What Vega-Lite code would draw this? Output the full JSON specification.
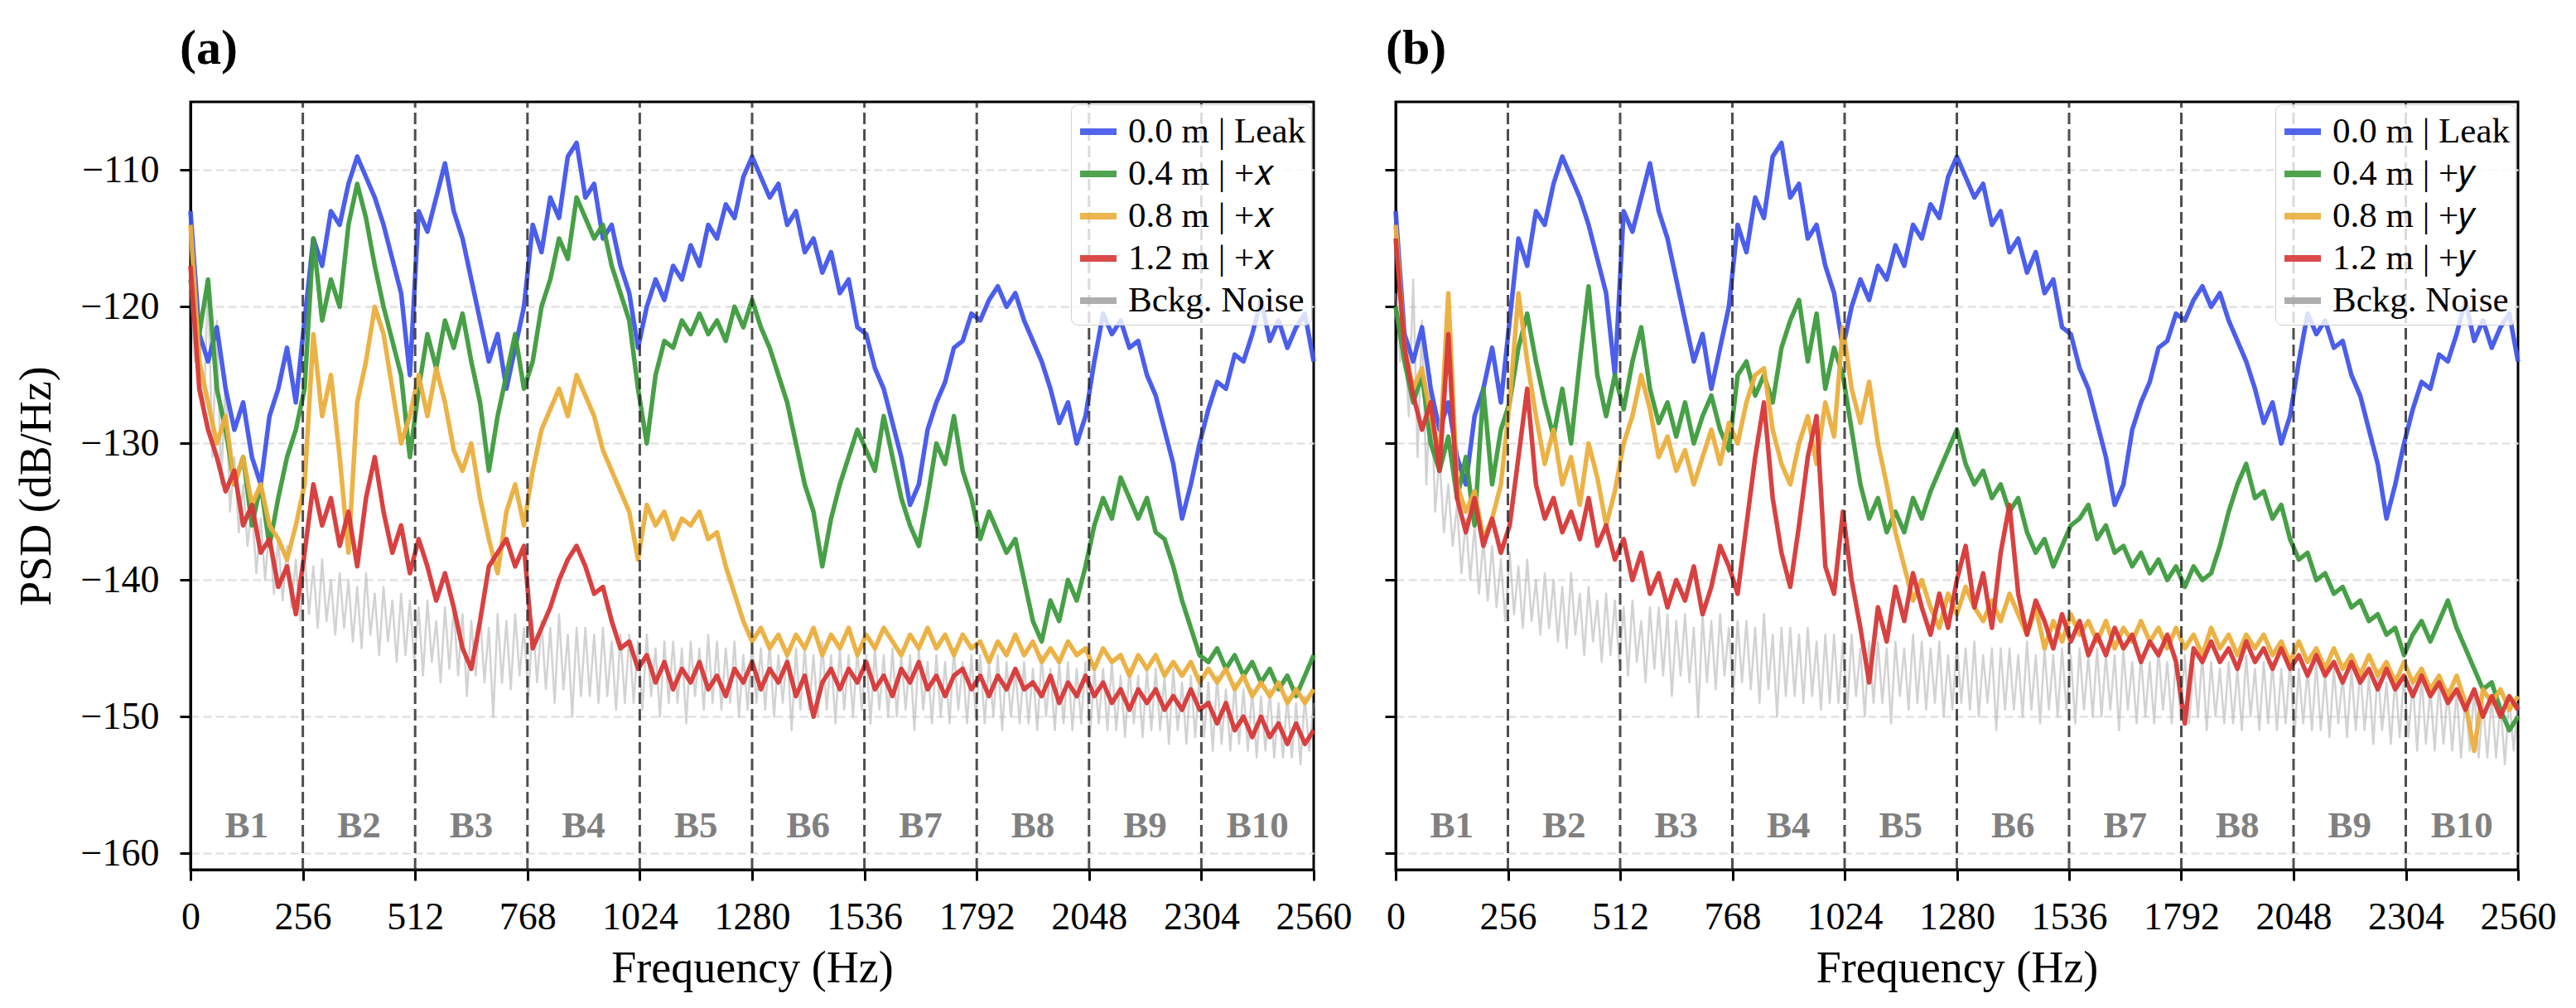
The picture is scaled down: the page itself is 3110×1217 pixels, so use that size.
{
"$schema": "https://vega.github.io/schema/vega-lite/v6.json",
"background": "white",
"padding": {"left": 15, "top": 27, "right": 0, "bottom": 0},
"config": {
  "font": "Liberation Serif",
  "view": {"stroke": "black", "strokeWidth": 3},
  "axis": {"domainColor": "black", "domainWidth": 3, "tickColor": "black", "tickWidth": 3, "tickSize": 13, "labelColor": "black", "titleColor": "black", "labelFont": "Liberation Serif", "titleFont": "Liberation Serif", "labelFontSize": 46, "titleFontSize": 54, "titleFontWeight": "normal", "labelOverlap": false, "labelFlush": false},
  "legend": {"orient": "top-right", "offset": 3, "fillColor": "rgba(255,255,255,0.8)", "strokeColor": "#d0d0d0", "cornerRadius": 8, "padding": 7, "labelFont": "Liberation Serif", "labelFontSize": 43, "labelColor": "black", "symbolType": "stroke", "symbolSize": 1936, "symbolStrokeWidth": 8, "symbolOpacity": 0.9, "labelOffset": 10, "rowPadding": 3, "labelLimit": 500}
},
"datasets": {
"blue": [{"f":0,"v":-113},{"f":20,"v":-122},{"f":40,"v":-124},{"f":60,"v":-121.5},{"f":80,"v":-126},{"f":100,"v":-129},{"f":120,"v":-127},{"f":140,"v":-131},{"f":160,"v":-133},{"f":180,"v":-128},{"f":200,"v":-126},{"f":220,"v":-123},{"f":240,"v":-127},{"f":260,"v":-121},{"f":280,"v":-115},{"f":300,"v":-117},{"f":320,"v":-113},{"f":340,"v":-114},{"f":360,"v":-111},{"f":380,"v":-109},{"f":400,"v":-110.5},{"f":420,"v":-112},{"f":440,"v":-114},{"f":460,"v":-116.5},{"f":480,"v":-119},{"f":500,"v":-125},{"f":520,"v":-113},{"f":540,"v":-114.5},{"f":560,"v":-112},{"f":580,"v":-109.5},{"f":600,"v":-113},{"f":620,"v":-115},{"f":640,"v":-118},{"f":660,"v":-121},{"f":680,"v":-124},{"f":700,"v":-122},{"f":720,"v":-126},{"f":740,"v":-123},{"f":760,"v":-120},{"f":780,"v":-114},{"f":800,"v":-116},{"f":820,"v":-112},{"f":840,"v":-113.5},{"f":860,"v":-109},{"f":880,"v":-108},{"f":900,"v":-112},{"f":920,"v":-111},{"f":940,"v":-115},{"f":960,"v":-114},{"f":980,"v":-117},{"f":1000,"v":-119},{"f":1020,"v":-123},{"f":1040,"v":-120},{"f":1060,"v":-118},{"f":1080,"v":-119.5},{"f":1100,"v":-117},{"f":1120,"v":-118},{"f":1140,"v":-115.5},{"f":1160,"v":-117},{"f":1180,"v":-114},{"f":1200,"v":-115},{"f":1220,"v":-112.5},{"f":1240,"v":-113.5},{"f":1260,"v":-110.5},{"f":1280,"v":-109},{"f":1300,"v":-110.5},{"f":1320,"v":-112},{"f":1340,"v":-111},{"f":1360,"v":-114},{"f":1380,"v":-113},{"f":1400,"v":-116},{"f":1420,"v":-115},{"f":1440,"v":-117.5},{"f":1460,"v":-116},{"f":1480,"v":-119},{"f":1500,"v":-118},{"f":1520,"v":-121.5},{"f":1540,"v":-122},{"f":1560,"v":-124.5},{"f":1580,"v":-126},{"f":1600,"v":-128.5},{"f":1620,"v":-131},{"f":1640,"v":-134.5},{"f":1660,"v":-133},{"f":1680,"v":-129},{"f":1700,"v":-127},{"f":1720,"v":-125.5},{"f":1740,"v":-123},{"f":1760,"v":-122.5},{"f":1780,"v":-120.5},{"f":1800,"v":-121},{"f":1820,"v":-119.5},{"f":1840,"v":-118.5},{"f":1860,"v":-120},{"f":1880,"v":-119},{"f":1900,"v":-121},{"f":1920,"v":-122.5},{"f":1940,"v":-124},{"f":1960,"v":-126},{"f":1980,"v":-128.5},{"f":2000,"v":-127},{"f":2020,"v":-130},{"f":2040,"v":-128},{"f":2060,"v":-124},{"f":2080,"v":-120.5},{"f":2100,"v":-122},{"f":2120,"v":-121},{"f":2140,"v":-123},{"f":2160,"v":-122.5},{"f":2180,"v":-125},{"f":2200,"v":-126.5},{"f":2220,"v":-129},{"f":2240,"v":-131.5},{"f":2260,"v":-135.5},{"f":2280,"v":-133},{"f":2300,"v":-130},{"f":2320,"v":-127.5},{"f":2340,"v":-125.5},{"f":2360,"v":-126},{"f":2380,"v":-123.5},{"f":2400,"v":-124},{"f":2420,"v":-122},{"f":2440,"v":-119.5},{"f":2460,"v":-122.5},{"f":2480,"v":-121},{"f":2500,"v":-123},{"f":2520,"v":-121.5},{"f":2540,"v":-120.5},{"f":2560,"v":-124}],
"ga": [{"f":0,"v":-118},{"f":20,"v":-122},{"f":40,"v":-118},{"f":60,"v":-126},{"f":80,"v":-129},{"f":100,"v":-133},{"f":120,"v":-131},{"f":140,"v":-136},{"f":160,"v":-133},{"f":180,"v":-137.5},{"f":200,"v":-134},{"f":220,"v":-131},{"f":240,"v":-129},{"f":260,"v":-126},{"f":280,"v":-115},{"f":300,"v":-121},{"f":320,"v":-118},{"f":340,"v":-120},{"f":360,"v":-114},{"f":380,"v":-111},{"f":400,"v":-113.5},{"f":420,"v":-117},{"f":440,"v":-120},{"f":460,"v":-122.5},{"f":480,"v":-125},{"f":500,"v":-131},{"f":520,"v":-126},{"f":540,"v":-122},{"f":560,"v":-124.5},{"f":580,"v":-121},{"f":600,"v":-123},{"f":620,"v":-120.5},{"f":640,"v":-124},{"f":660,"v":-127},{"f":680,"v":-132},{"f":700,"v":-128},{"f":720,"v":-125},{"f":740,"v":-122},{"f":760,"v":-126},{"f":780,"v":-124},{"f":800,"v":-120},{"f":820,"v":-118},{"f":840,"v":-115},{"f":860,"v":-116.5},{"f":880,"v":-112},{"f":900,"v":-113.5},{"f":920,"v":-115},{"f":940,"v":-114},{"f":960,"v":-117},{"f":980,"v":-119},{"f":1000,"v":-121},{"f":1020,"v":-126},{"f":1040,"v":-130},{"f":1060,"v":-125},{"f":1080,"v":-122.5},{"f":1100,"v":-123},{"f":1120,"v":-121},{"f":1140,"v":-122},{"f":1160,"v":-120.5},{"f":1180,"v":-122},{"f":1200,"v":-121},{"f":1220,"v":-122.5},{"f":1240,"v":-120},{"f":1260,"v":-121.5},{"f":1280,"v":-119.5},{"f":1300,"v":-121.5},{"f":1320,"v":-123},{"f":1340,"v":-125},{"f":1360,"v":-127},{"f":1380,"v":-130},{"f":1400,"v":-133},{"f":1420,"v":-135},{"f":1440,"v":-139},{"f":1460,"v":-135.5},{"f":1480,"v":-133},{"f":1500,"v":-131},{"f":1520,"v":-129},{"f":1540,"v":-130.5},{"f":1560,"v":-132},{"f":1580,"v":-128},{"f":1600,"v":-131},{"f":1620,"v":-134},{"f":1640,"v":-136},{"f":1660,"v":-137.5},{"f":1680,"v":-134},{"f":1700,"v":-130},{"f":1720,"v":-131.5},{"f":1740,"v":-128},{"f":1760,"v":-132},{"f":1780,"v":-134},{"f":1800,"v":-137},{"f":1820,"v":-135},{"f":1840,"v":-136.5},{"f":1860,"v":-138},{"f":1880,"v":-137},{"f":1900,"v":-140},{"f":1920,"v":-143},{"f":1940,"v":-144.5},{"f":1960,"v":-141.5},{"f":1980,"v":-143},{"f":2000,"v":-140},{"f":2020,"v":-141.5},{"f":2040,"v":-139},{"f":2060,"v":-136},{"f":2080,"v":-134},{"f":2100,"v":-135.5},{"f":2120,"v":-132.5},{"f":2140,"v":-134},{"f":2160,"v":-135.5},{"f":2180,"v":-134},{"f":2200,"v":-136.5},{"f":2220,"v":-137},{"f":2240,"v":-139},{"f":2260,"v":-141.5},{"f":2280,"v":-143.5},{"f":2300,"v":-145.5},{"f":2320,"v":-146},{"f":2340,"v":-145},{"f":2360,"v":-146.5},{"f":2380,"v":-145.5},{"f":2400,"v":-147},{"f":2420,"v":-146},{"f":2440,"v":-147.5},{"f":2460,"v":-146.5},{"f":2480,"v":-148},{"f":2500,"v":-147},{"f":2520,"v":-148.5},{"f":2540,"v":-147},{"f":2560,"v":-145.5}],
"oa": [{"f":0,"v":-114},{"f":20,"v":-124},{"f":40,"v":-127},{"f":60,"v":-130},{"f":80,"v":-128},{"f":100,"v":-133},{"f":120,"v":-131},{"f":140,"v":-134.5},{"f":160,"v":-133},{"f":180,"v":-136},{"f":200,"v":-137},{"f":220,"v":-138.5},{"f":240,"v":-136},{"f":260,"v":-133},{"f":280,"v":-122},{"f":300,"v":-128},{"f":320,"v":-125},{"f":340,"v":-131},{"f":360,"v":-138},{"f":380,"v":-127},{"f":400,"v":-124},{"f":420,"v":-120},{"f":440,"v":-122},{"f":460,"v":-126},{"f":480,"v":-130},{"f":500,"v":-128},{"f":520,"v":-125},{"f":540,"v":-128},{"f":560,"v":-124.5},{"f":580,"v":-127},{"f":600,"v":-130.5},{"f":620,"v":-132},{"f":640,"v":-130},{"f":660,"v":-134},{"f":680,"v":-137},{"f":700,"v":-139.5},{"f":720,"v":-135},{"f":740,"v":-133},{"f":760,"v":-136},{"f":780,"v":-132},{"f":800,"v":-129},{"f":820,"v":-127.5},{"f":840,"v":-126},{"f":860,"v":-128},{"f":880,"v":-125},{"f":900,"v":-126.5},{"f":920,"v":-128},{"f":940,"v":-130.5},{"f":960,"v":-132},{"f":980,"v":-133.5},{"f":1000,"v":-135},{"f":1020,"v":-138.5},{"f":1040,"v":-134.5},{"f":1060,"v":-136},{"f":1080,"v":-135},{"f":1100,"v":-137},{"f":1120,"v":-135.5},{"f":1140,"v":-136},{"f":1160,"v":-135},{"f":1180,"v":-137},{"f":1200,"v":-136.5},{"f":1220,"v":-139},{"f":1240,"v":-141},{"f":1260,"v":-143},{"f":1280,"v":-144.5},{"f":1300,"v":-143.5},{"f":1320,"v":-145},{"f":1340,"v":-144},{"f":1360,"v":-145.5},{"f":1380,"v":-144},{"f":1400,"v":-145},{"f":1420,"v":-143.5},{"f":1440,"v":-145.5},{"f":1460,"v":-144},{"f":1480,"v":-145},{"f":1500,"v":-143.5},{"f":1520,"v":-145.5},{"f":1540,"v":-144},{"f":1560,"v":-145},{"f":1580,"v":-143.5},{"f":1600,"v":-144.5},{"f":1620,"v":-145.5},{"f":1640,"v":-144},{"f":1660,"v":-145},{"f":1680,"v":-143.5},{"f":1700,"v":-145},{"f":1720,"v":-144},{"f":1740,"v":-145.5},{"f":1760,"v":-144},{"f":1780,"v":-145},{"f":1800,"v":-144.5},{"f":1820,"v":-146},{"f":1840,"v":-144.5},{"f":1860,"v":-145.5},{"f":1880,"v":-144},{"f":1900,"v":-145.5},{"f":1920,"v":-144.5},{"f":1940,"v":-146},{"f":1960,"v":-145},{"f":1980,"v":-146},{"f":2000,"v":-144.5},{"f":2020,"v":-145.5},{"f":2040,"v":-145},{"f":2060,"v":-146.5},{"f":2080,"v":-145},{"f":2100,"v":-146},{"f":2120,"v":-145.5},{"f":2140,"v":-147},{"f":2160,"v":-145.5},{"f":2180,"v":-146.5},{"f":2200,"v":-145.5},{"f":2220,"v":-147},{"f":2240,"v":-146},{"f":2260,"v":-147},{"f":2280,"v":-146},{"f":2300,"v":-147.5},{"f":2320,"v":-146.5},{"f":2340,"v":-147.5},{"f":2360,"v":-146.5},{"f":2380,"v":-148},{"f":2400,"v":-147},{"f":2420,"v":-148.5},{"f":2440,"v":-147.5},{"f":2460,"v":-148.5},{"f":2480,"v":-147.5},{"f":2500,"v":-149},{"f":2520,"v":-148},{"f":2540,"v":-149},{"f":2560,"v":-148}],
"ra": [{"f":0,"v":-117},{"f":20,"v":-126},{"f":40,"v":-129},{"f":60,"v":-131},{"f":80,"v":-133.5},{"f":100,"v":-132},{"f":120,"v":-136},{"f":140,"v":-134.5},{"f":160,"v":-138},{"f":180,"v":-137},{"f":200,"v":-140.5},{"f":220,"v":-139},{"f":240,"v":-142.5},{"f":260,"v":-138},{"f":280,"v":-133},{"f":300,"v":-136},{"f":320,"v":-134},{"f":340,"v":-137.5},{"f":360,"v":-135},{"f":380,"v":-139},{"f":400,"v":-134},{"f":420,"v":-131},{"f":440,"v":-135},{"f":460,"v":-138},{"f":480,"v":-136},{"f":500,"v":-139.5},{"f":520,"v":-137},{"f":540,"v":-139},{"f":560,"v":-141.5},{"f":580,"v":-139.5},{"f":600,"v":-142},{"f":620,"v":-145},{"f":640,"v":-146.5},{"f":660,"v":-143},{"f":680,"v":-139},{"f":700,"v":-138},{"f":720,"v":-137},{"f":740,"v":-139},{"f":760,"v":-137.5},{"f":780,"v":-145},{"f":800,"v":-143.5},{"f":820,"v":-142},{"f":840,"v":-140},{"f":860,"v":-138.5},{"f":880,"v":-137.5},{"f":900,"v":-139},{"f":920,"v":-141},{"f":940,"v":-140.5},{"f":960,"v":-143},{"f":980,"v":-145},{"f":1000,"v":-144.5},{"f":1020,"v":-146.5},{"f":1040,"v":-145.5},{"f":1060,"v":-147.5},{"f":1080,"v":-146},{"f":1100,"v":-148},{"f":1120,"v":-146.5},{"f":1140,"v":-147.5},{"f":1160,"v":-146},{"f":1180,"v":-148},{"f":1200,"v":-147},{"f":1220,"v":-148.5},{"f":1240,"v":-146.5},{"f":1260,"v":-147.5},{"f":1280,"v":-146},{"f":1300,"v":-148},{"f":1320,"v":-146.5},{"f":1340,"v":-147.5},{"f":1360,"v":-146},{"f":1380,"v":-148.5},{"f":1400,"v":-147},{"f":1420,"v":-150},{"f":1440,"v":-147.5},{"f":1460,"v":-146.5},{"f":1480,"v":-148},{"f":1500,"v":-146.5},{"f":1520,"v":-147.5},{"f":1540,"v":-146},{"f":1560,"v":-148},{"f":1580,"v":-147},{"f":1600,"v":-148.5},{"f":1620,"v":-146.5},{"f":1640,"v":-147.5},{"f":1660,"v":-146},{"f":1680,"v":-148},{"f":1700,"v":-147},{"f":1720,"v":-148.5},{"f":1740,"v":-147},{"f":1760,"v":-146.5},{"f":1780,"v":-148},{"f":1800,"v":-147},{"f":1820,"v":-148.5},{"f":1840,"v":-147},{"f":1860,"v":-148},{"f":1880,"v":-146.5},{"f":1900,"v":-148},{"f":1920,"v":-147.5},{"f":1940,"v":-148.5},{"f":1960,"v":-147},{"f":1980,"v":-149},{"f":2000,"v":-147.5},{"f":2020,"v":-148.5},{"f":2040,"v":-147},{"f":2060,"v":-148.5},{"f":2080,"v":-147.5},{"f":2100,"v":-149},{"f":2120,"v":-148},{"f":2140,"v":-149.5},{"f":2160,"v":-148},{"f":2180,"v":-149},{"f":2200,"v":-148},{"f":2220,"v":-149.5},{"f":2240,"v":-148.5},{"f":2260,"v":-149.5},{"f":2280,"v":-148},{"f":2300,"v":-149.5},{"f":2320,"v":-149},{"f":2340,"v":-150.5},{"f":2360,"v":-149},{"f":2380,"v":-151},{"f":2400,"v":-150},{"f":2420,"v":-151.5},{"f":2440,"v":-150},{"f":2460,"v":-151.5},{"f":2480,"v":-150.5},{"f":2500,"v":-152},{"f":2520,"v":-150.5},{"f":2540,"v":-152},{"f":2560,"v":-151}],
"noise": [{"f":0,"v":-119},{"f":10,"v":-124},{"f":20,"v":-122},{"f":30,"v":-128},{"f":40,"v":-118},{"f":50,"v":-131},{"f":60,"v":-121},{"f":70,"v":-133},{"f":80,"v":-125},{"f":90,"v":-135},{"f":100,"v":-131},{"f":110,"v":-136.5},{"f":120,"v":-133},{"f":130,"v":-137.5},{"f":140,"v":-134.5},{"f":150,"v":-139.5},{"f":160,"v":-135.5},{"f":170,"v":-140},{"f":180,"v":-136},{"f":190,"v":-141},{"f":200,"v":-137},{"f":210,"v":-141.5},{"f":220,"v":-137.5},{"f":230,"v":-142},{"f":240,"v":-138.5},{"f":250,"v":-143},{"f":260,"v":-138},{"f":270,"v":-142.5},{"f":280,"v":-139},{"f":290,"v":-143.5},{"f":300,"v":-138.5},{"f":310,"v":-143},{"f":320,"v":-140},{"f":330,"v":-144},{"f":340,"v":-139.5},{"f":350,"v":-143.5},{"f":360,"v":-140},{"f":370,"v":-144.5},{"f":380,"v":-140.5},{"f":390,"v":-145},{"f":400,"v":-139.5},{"f":410,"v":-144},{"f":420,"v":-141},{"f":430,"v":-145.5},{"f":440,"v":-140.5},{"f":450,"v":-144.5},{"f":460,"v":-141.5},{"f":470,"v":-146},{"f":480,"v":-141},{"f":490,"v":-145.5},{"f":500,"v":-141.5},{"f":510,"v":-146},{"f":520,"v":-142},{"f":530,"v":-147},{"f":540,"v":-141.5},{"f":550,"v":-146},{"f":560,"v":-143},{"f":570,"v":-147.5},{"f":580,"v":-142},{"f":590,"v":-146.5},{"f":600,"v":-142},{"f":610,"v":-147},{"f":620,"v":-142.5},{"f":630,"v":-148.5},{"f":640,"v":-143},{"f":650,"v":-147},{"f":660,"v":-142.5},{"f":670,"v":-147.5},{"f":680,"v":-143.5},{"f":690,"v":-150},{"f":700,"v":-142.5},{"f":710,"v":-147.5},{"f":720,"v":-143},{"f":730,"v":-148},{"f":740,"v":-142.5},{"f":750,"v":-147},{"f":760,"v":-143.5},{"f":770,"v":-148.5},{"f":780,"v":-143},{"f":790,"v":-147.5},{"f":800,"v":-143},{"f":810,"v":-148},{"f":820,"v":-143.5},{"f":830,"v":-149},{"f":840,"v":-142.5},{"f":850,"v":-148},{"f":860,"v":-144},{"f":870,"v":-150},{"f":880,"v":-143.5},{"f":890,"v":-148.5},{"f":900,"v":-143.5},{"f":910,"v":-148.5},{"f":920,"v":-144},{"f":930,"v":-149},{"f":940,"v":-143.5},{"f":950,"v":-148.5},{"f":960,"v":-144.5},{"f":970,"v":-149.5},{"f":980,"v":-144},{"f":990,"v":-149},{"f":1000,"v":-144},{"f":1010,"v":-149},{"f":1020,"v":-144.5},{"f":1030,"v":-149.5},{"f":1040,"v":-144},{"f":1050,"v":-148.5},{"f":1060,"v":-145},{"f":1070,"v":-150},{"f":1080,"v":-144.5},{"f":1090,"v":-149},{"f":1100,"v":-144.5},{"f":1110,"v":-149},{"f":1120,"v":-145},{"f":1130,"v":-150.5},{"f":1140,"v":-144.5},{"f":1150,"v":-148.5},{"f":1160,"v":-145},{"f":1170,"v":-149.5},{"f":1180,"v":-144},{"f":1190,"v":-149},{"f":1200,"v":-144.5},{"f":1210,"v":-149.5},{"f":1220,"v":-145},{"f":1230,"v":-149},{"f":1240,"v":-144.5},{"f":1250,"v":-150},{"f":1260,"v":-145.5},{"f":1270,"v":-149.5},{"f":1280,"v":-144.5},{"f":1290,"v":-149},{"f":1300,"v":-145},{"f":1310,"v":-149.5},{"f":1320,"v":-144.5},{"f":1330,"v":-150},{"f":1340,"v":-145.5},{"f":1350,"v":-149},{"f":1360,"v":-145},{"f":1370,"v":-151},{"f":1380,"v":-145},{"f":1390,"v":-149.5},{"f":1400,"v":-145},{"f":1410,"v":-149.5},{"f":1420,"v":-145.5},{"f":1430,"v":-150},{"f":1440,"v":-144.5},{"f":1450,"v":-149.5},{"f":1460,"v":-145.5},{"f":1470,"v":-150.5},{"f":1480,"v":-145},{"f":1490,"v":-149.5},{"f":1500,"v":-145.5},{"f":1510,"v":-150},{"f":1520,"v":-145},{"f":1530,"v":-149.5},{"f":1540,"v":-145.5},{"f":1550,"v":-150.5},{"f":1560,"v":-145},{"f":1570,"v":-149.5},{"f":1580,"v":-145.5},{"f":1590,"v":-150},{"f":1600,"v":-145},{"f":1610,"v":-150},{"f":1620,"v":-145.5},{"f":1630,"v":-149.5},{"f":1640,"v":-145.5},{"f":1650,"v":-151},{"f":1660,"v":-145},{"f":1670,"v":-149.5},{"f":1680,"v":-146},{"f":1690,"v":-150.5},{"f":1700,"v":-145.5},{"f":1710,"v":-150},{"f":1720,"v":-146},{"f":1730,"v":-150.5},{"f":1740,"v":-145},{"f":1750,"v":-149.5},{"f":1760,"v":-146},{"f":1770,"v":-150.5},{"f":1780,"v":-145.5},{"f":1790,"v":-150},{"f":1800,"v":-145.5},{"f":1810,"v":-150.5},{"f":1820,"v":-146},{"f":1830,"v":-150},{"f":1840,"v":-145.5},{"f":1850,"v":-151},{"f":1860,"v":-146},{"f":1870,"v":-150},{"f":1880,"v":-146.5},{"f":1890,"v":-150.5},{"f":1900,"v":-146},{"f":1910,"v":-150.5},{"f":1920,"v":-146.5},{"f":1930,"v":-151},{"f":1940,"v":-145.5},{"f":1950,"v":-150},{"f":1960,"v":-146.5},{"f":1970,"v":-151},{"f":1980,"v":-146},{"f":1990,"v":-150.5},{"f":2000,"v":-146},{"f":2010,"v":-151},{"f":2020,"v":-146.5},{"f":2030,"v":-150.5},{"f":2040,"v":-146},{"f":2050,"v":-151.5},{"f":2060,"v":-146.5},{"f":2070,"v":-150.5},{"f":2080,"v":-146.5},{"f":2090,"v":-151},{"f":2100,"v":-146},{"f":2110,"v":-151},{"f":2120,"v":-147},{"f":2130,"v":-151.5},{"f":2140,"v":-146.5},{"f":2150,"v":-150.5},{"f":2160,"v":-147},{"f":2170,"v":-151.5},{"f":2180,"v":-146.5},{"f":2190,"v":-151},{"f":2200,"v":-146.5},{"f":2210,"v":-151},{"f":2220,"v":-147},{"f":2230,"v":-152},{"f":2240,"v":-146.5},{"f":2250,"v":-151},{"f":2260,"v":-147.5},{"f":2270,"v":-152},{"f":2280,"v":-147},{"f":2290,"v":-151.5},{"f":2300,"v":-147},{"f":2310,"v":-151.5},{"f":2320,"v":-147.5},{"f":2330,"v":-152.5},{"f":2340,"v":-147},{"f":2350,"v":-152},{"f":2360,"v":-148},{"f":2370,"v":-152.5},{"f":2380,"v":-147.5},{"f":2390,"v":-152},{"f":2400,"v":-148},{"f":2410,"v":-152.5},{"f":2420,"v":-148},{"f":2430,"v":-153},{"f":2440,"v":-148.5},{"f":2450,"v":-152.5},{"f":2460,"v":-148},{"f":2470,"v":-153},{"f":2480,"v":-149},{"f":2490,"v":-153},{"f":2500,"v":-148.5},{"f":2510,"v":-153},{"f":2520,"v":-149},{"f":2530,"v":-153.5},{"f":2540,"v":-148.5},{"f":2550,"v":-152.5},{"f":2560,"v":-149}],
"gb": [{"f":0,"v":-120},{"f":20,"v":-124},{"f":40,"v":-127},{"f":60,"v":-125},{"f":80,"v":-130},{"f":100,"v":-132},{"f":120,"v":-129.5},{"f":140,"v":-134},{"f":160,"v":-131},{"f":180,"v":-136},{"f":200,"v":-126},{"f":220,"v":-133},{"f":240,"v":-129},{"f":260,"v":-127},{"f":280,"v":-123},{"f":300,"v":-120.5},{"f":320,"v":-124},{"f":340,"v":-127},{"f":360,"v":-129.5},{"f":380,"v":-126},{"f":400,"v":-130},{"f":420,"v":-124},{"f":440,"v":-118.5},{"f":460,"v":-125},{"f":480,"v":-128},{"f":500,"v":-125},{"f":520,"v":-127.5},{"f":540,"v":-124},{"f":560,"v":-121.5},{"f":580,"v":-126},{"f":600,"v":-128.5},{"f":620,"v":-127},{"f":640,"v":-129.5},{"f":660,"v":-127},{"f":680,"v":-130},{"f":700,"v":-128},{"f":720,"v":-126.5},{"f":740,"v":-129},{"f":760,"v":-130.5},{"f":780,"v":-125},{"f":800,"v":-124},{"f":820,"v":-126.5},{"f":840,"v":-125},{"f":860,"v":-127},{"f":880,"v":-123},{"f":900,"v":-121},{"f":920,"v":-119.5},{"f":940,"v":-124},{"f":960,"v":-120.5},{"f":980,"v":-126},{"f":1000,"v":-123},{"f":1020,"v":-125},{"f":1040,"v":-129},{"f":1060,"v":-133},{"f":1080,"v":-135.5},{"f":1100,"v":-134},{"f":1120,"v":-136.5},{"f":1140,"v":-135},{"f":1160,"v":-136.5},{"f":1180,"v":-134},{"f":1200,"v":-135.5},{"f":1220,"v":-133.5},{"f":1240,"v":-132},{"f":1260,"v":-130.5},{"f":1280,"v":-129},{"f":1300,"v":-131.5},{"f":1320,"v":-133},{"f":1340,"v":-132},{"f":1360,"v":-134},{"f":1380,"v":-133},{"f":1400,"v":-135},{"f":1420,"v":-134},{"f":1440,"v":-136.5},{"f":1460,"v":-138},{"f":1480,"v":-137},{"f":1500,"v":-139},{"f":1520,"v":-137.5},{"f":1540,"v":-136},{"f":1560,"v":-135.5},{"f":1580,"v":-134.5},{"f":1600,"v":-137},{"f":1620,"v":-136},{"f":1640,"v":-138},{"f":1660,"v":-137.5},{"f":1680,"v":-139},{"f":1700,"v":-138},{"f":1720,"v":-139.5},{"f":1740,"v":-138.5},{"f":1760,"v":-140},{"f":1780,"v":-139},{"f":1800,"v":-140.5},{"f":1820,"v":-139},{"f":1840,"v":-140},{"f":1860,"v":-139.5},{"f":1880,"v":-137.5},{"f":1900,"v":-135},{"f":1920,"v":-133},{"f":1940,"v":-131.5},{"f":1960,"v":-134},{"f":1980,"v":-133.5},{"f":2000,"v":-135.5},{"f":2020,"v":-134.5},{"f":2040,"v":-137},{"f":2060,"v":-138.5},{"f":2080,"v":-138},{"f":2100,"v":-140},{"f":2120,"v":-139.5},{"f":2140,"v":-141},{"f":2160,"v":-140.5},{"f":2180,"v":-142},{"f":2200,"v":-141.5},{"f":2220,"v":-143},{"f":2240,"v":-142.5},{"f":2260,"v":-144},{"f":2280,"v":-143.5},{"f":2300,"v":-145.5},{"f":2320,"v":-144},{"f":2340,"v":-143},{"f":2360,"v":-144.5},{"f":2380,"v":-143},{"f":2400,"v":-141.5},{"f":2420,"v":-143.5},{"f":2440,"v":-145},{"f":2460,"v":-146.5},{"f":2480,"v":-148},{"f":2500,"v":-147.5},{"f":2520,"v":-149.5},{"f":2540,"v":-151},{"f":2560,"v":-150}],
"ob": [{"f":0,"v":-114},{"f":20,"v":-123},{"f":40,"v":-126},{"f":60,"v":-124.5},{"f":80,"v":-128},{"f":100,"v":-131},{"f":120,"v":-119},{"f":140,"v":-133},{"f":160,"v":-135},{"f":180,"v":-133.5},{"f":200,"v":-137},{"f":220,"v":-135.5},{"f":240,"v":-133},{"f":260,"v":-127},{"f":280,"v":-119},{"f":300,"v":-124},{"f":320,"v":-128},{"f":340,"v":-131.5},{"f":360,"v":-129},{"f":380,"v":-133},{"f":400,"v":-131},{"f":420,"v":-134.5},{"f":440,"v":-130},{"f":460,"v":-132.5},{"f":480,"v":-136},{"f":500,"v":-133.5},{"f":520,"v":-130},{"f":540,"v":-128},{"f":560,"v":-125},{"f":580,"v":-127.5},{"f":600,"v":-131},{"f":620,"v":-129.5},{"f":640,"v":-132},{"f":660,"v":-130.5},{"f":680,"v":-133},{"f":700,"v":-131},{"f":720,"v":-129},{"f":740,"v":-131.5},{"f":760,"v":-128.5},{"f":780,"v":-130},{"f":800,"v":-127},{"f":820,"v":-125},{"f":840,"v":-124.5},{"f":860,"v":-129},{"f":880,"v":-131.5},{"f":900,"v":-133},{"f":920,"v":-130},{"f":940,"v":-128},{"f":960,"v":-131.5},{"f":980,"v":-127},{"f":1000,"v":-129.5},{"f":1020,"v":-121.5},{"f":1040,"v":-126},{"f":1060,"v":-128.5},{"f":1080,"v":-125.5},{"f":1100,"v":-130},{"f":1120,"v":-133},{"f":1140,"v":-136.5},{"f":1160,"v":-139},{"f":1180,"v":-141.5},{"f":1200,"v":-140},{"f":1220,"v":-142},{"f":1240,"v":-143.5},{"f":1260,"v":-141},{"f":1280,"v":-142.5},{"f":1300,"v":-140.5},{"f":1320,"v":-142},{"f":1340,"v":-143},{"f":1360,"v":-141.5},{"f":1380,"v":-143},{"f":1400,"v":-141},{"f":1420,"v":-142.5},{"f":1440,"v":-144},{"f":1460,"v":-142},{"f":1480,"v":-145},{"f":1500,"v":-143},{"f":1520,"v":-144.5},{"f":1540,"v":-142.5},{"f":1560,"v":-144},{"f":1580,"v":-143},{"f":1600,"v":-144.5},{"f":1620,"v":-143},{"f":1640,"v":-145},{"f":1660,"v":-143.5},{"f":1680,"v":-144.5},{"f":1700,"v":-143},{"f":1720,"v":-144.5},{"f":1740,"v":-143.5},{"f":1760,"v":-145},{"f":1780,"v":-143.5},{"f":1800,"v":-145},{"f":1820,"v":-144},{"f":1840,"v":-145.5},{"f":1860,"v":-143.5},{"f":1880,"v":-145},{"f":1900,"v":-144},{"f":1920,"v":-145.5},{"f":1940,"v":-144},{"f":1960,"v":-145},{"f":1980,"v":-144},{"f":2000,"v":-145.5},{"f":2020,"v":-144.5},{"f":2040,"v":-146},{"f":2060,"v":-144.5},{"f":2080,"v":-146},{"f":2100,"v":-145},{"f":2120,"v":-146.5},{"f":2140,"v":-145},{"f":2160,"v":-146.5},{"f":2180,"v":-145.5},{"f":2200,"v":-147},{"f":2220,"v":-145.5},{"f":2240,"v":-147},{"f":2260,"v":-146},{"f":2280,"v":-147.5},{"f":2300,"v":-146},{"f":2320,"v":-147.5},{"f":2340,"v":-146.5},{"f":2360,"v":-148},{"f":2380,"v":-147},{"f":2400,"v":-148.5},{"f":2420,"v":-147},{"f":2440,"v":-149},{"f":2460,"v":-152.5},{"f":2480,"v":-148},{"f":2500,"v":-149},{"f":2520,"v":-148},{"f":2540,"v":-149.5},{"f":2560,"v":-148.5}],
"rb": [{"f":0,"v":-115},{"f":20,"v":-123},{"f":40,"v":-126.5},{"f":60,"v":-129},{"f":80,"v":-127},{"f":100,"v":-132},{"f":120,"v":-122},{"f":140,"v":-134},{"f":160,"v":-136.5},{"f":180,"v":-134},{"f":200,"v":-137.5},{"f":220,"v":-135.5},{"f":240,"v":-138},{"f":260,"v":-136},{"f":280,"v":-131},{"f":300,"v":-126},{"f":320,"v":-133},{"f":340,"v":-135.5},{"f":360,"v":-134},{"f":380,"v":-136.5},{"f":400,"v":-135},{"f":420,"v":-137},{"f":440,"v":-134},{"f":460,"v":-137.5},{"f":480,"v":-136},{"f":500,"v":-138.5},{"f":520,"v":-137},{"f":540,"v":-140},{"f":560,"v":-138},{"f":580,"v":-141},{"f":600,"v":-139.5},{"f":620,"v":-142},{"f":640,"v":-140},{"f":660,"v":-141.5},{"f":680,"v":-139},{"f":700,"v":-142.5},{"f":720,"v":-140.5},{"f":740,"v":-137.5},{"f":760,"v":-139},{"f":780,"v":-141},{"f":800,"v":-136},{"f":820,"v":-131},{"f":840,"v":-127},{"f":860,"v":-134},{"f":880,"v":-138},{"f":900,"v":-140.5},{"f":920,"v":-136},{"f":940,"v":-131},{"f":960,"v":-128},{"f":980,"v":-139},{"f":1000,"v":-141},{"f":1020,"v":-135},{"f":1040,"v":-140},{"f":1060,"v":-143.5},{"f":1080,"v":-147.5},{"f":1100,"v":-142},{"f":1120,"v":-144.5},{"f":1140,"v":-140.5},{"f":1160,"v":-143},{"f":1180,"v":-139.5},{"f":1200,"v":-142},{"f":1220,"v":-144},{"f":1240,"v":-141},{"f":1260,"v":-143.5},{"f":1280,"v":-140},{"f":1300,"v":-137.5},{"f":1320,"v":-142},{"f":1340,"v":-139.5},{"f":1360,"v":-143.5},{"f":1380,"v":-138},{"f":1400,"v":-134.5},{"f":1420,"v":-141},{"f":1440,"v":-144},{"f":1460,"v":-141.5},{"f":1480,"v":-143},{"f":1500,"v":-145},{"f":1520,"v":-142.5},{"f":1540,"v":-144.5},{"f":1560,"v":-143},{"f":1580,"v":-145.5},{"f":1600,"v":-144},{"f":1620,"v":-145.5},{"f":1640,"v":-143.5},{"f":1660,"v":-145},{"f":1680,"v":-144},{"f":1700,"v":-146},{"f":1720,"v":-144.5},{"f":1740,"v":-145.5},{"f":1760,"v":-144},{"f":1780,"v":-146},{"f":1800,"v":-150.5},{"f":1820,"v":-145},{"f":1840,"v":-146},{"f":1860,"v":-144.5},{"f":1880,"v":-146},{"f":1900,"v":-145},{"f":1920,"v":-146.5},{"f":1940,"v":-144.5},{"f":1960,"v":-146},{"f":1980,"v":-145},{"f":2000,"v":-146.5},{"f":2020,"v":-145},{"f":2040,"v":-146.5},{"f":2060,"v":-145.5},{"f":2080,"v":-147},{"f":2100,"v":-145.5},{"f":2120,"v":-147},{"f":2140,"v":-146},{"f":2160,"v":-147.5},{"f":2180,"v":-146},{"f":2200,"v":-147.5},{"f":2220,"v":-146.5},{"f":2240,"v":-148},{"f":2260,"v":-146.5},{"f":2280,"v":-148},{"f":2300,"v":-147},{"f":2320,"v":-148.5},{"f":2340,"v":-147},{"f":2360,"v":-148.5},{"f":2380,"v":-147.5},{"f":2400,"v":-149},{"f":2420,"v":-148},{"f":2440,"v":-149.5},{"f":2460,"v":-148},{"f":2480,"v":-150},{"f":2500,"v":-148.5},{"f":2520,"v":-150},{"f":2540,"v":-148.5},{"f":2560,"v":-149.5}],
"rules": [{"f":256},{"f":512},{"f":768},{"f":1024},{"f":1280},{"f":1536},{"f":1792},{"f":2048},{"f":2304}],
"bands": [{"f":128,"t":"B1"},{"f":384,"t":"B2"},{"f":640,"t":"B3"},{"f":896,"t":"B4"},{"f":1152,"t":"B5"},{"f":1408,"t":"B6"},{"f":1664,"t":"B7"},{"f":1920,"t":"B8"},{"f":2176,"t":"B9"},{"f":2432,"t":"B10"}]
},
"hconcat": [
{
  "width": 1356, "height": 927,
  "title": {"text": "(a)", "anchor": "start", "frame": "group", "fontSize": 60, "fontWeight": "bold", "font": "Liberation Serif", "color": "black", "dx": -13, "baseline": "alphabetic", "offset": -15},
  "layer": [
    {"data": {"name": "noise"}, "mark": {"type": "line", "strokeWidth": 2.5, "opacity": 0.5, "strokeJoin": "round"},
     "encoding": {
       "x": {"field": "f", "type": "quantitative", "title": "Frequency (Hz)", "scale": {"domain": [0, 2560], "nice": false, "zero": false},
             "axis": {"values": [0,256,512,768,1024,1280,1536,1792,2048,2304,2560], "format": "d", "labelPadding": 22, "titlePadding": 12, "grid": false}},
       "y": {"field": "v", "type": "quantitative", "title": "PSD (dB/Hz)", "scale": {"domain": [-161.2, -105], "nice": false, "zero": false},
             "axis": {"values": [-160,-150,-140,-130,-120,-110], "format": "d", "labelPadding": 25, "titlePadding": 26, "grid": true, "gridDash": [10,5], "gridColor": "#e2e2e2", "gridWidth": 2.5}},
       "color": {"datum": "Bckg. Noise", "scale": {"domain": ["0.0 m | Leak", "0.4 m | +𝑥", "0.8 m | +𝑥", "1.2 m | +𝑥", "Bckg. Noise"], "range": ["#4155eb", "#3d9b3d", "#ebae3c", "#d73737", "#a6a6a6"]}, "legend": {"title": null}}}},
    {"data": {"name": "blue"}, "mark": {"type": "line", "strokeWidth": 5.5, "opacity": 0.95, "strokeJoin": "round"},
     "encoding": {"x": {"field": "f", "type": "quantitative", "title": "Frequency (Hz)"}, "y": {"field": "v", "type": "quantitative", "title": "PSD (dB/Hz)"}, "color": {"datum": "0.0 m | Leak"}}},
    {"data": {"name": "ga"}, "mark": {"type": "line", "strokeWidth": 5.5, "opacity": 0.95, "strokeJoin": "round"},
     "encoding": {"x": {"field": "f", "type": "quantitative", "title": "Frequency (Hz)"}, "y": {"field": "v", "type": "quantitative", "title": "PSD (dB/Hz)"}, "color": {"datum": "0.4 m | +𝑥"}}},
    {"data": {"name": "oa"}, "mark": {"type": "line", "strokeWidth": 5.5, "opacity": 0.95, "strokeJoin": "round"},
     "encoding": {"x": {"field": "f", "type": "quantitative", "title": "Frequency (Hz)"}, "y": {"field": "v", "type": "quantitative", "title": "PSD (dB/Hz)"}, "color": {"datum": "0.8 m | +𝑥"}}},
    {"data": {"name": "ra"}, "mark": {"type": "line", "strokeWidth": 5.5, "opacity": 0.95, "strokeJoin": "round"},
     "encoding": {"x": {"field": "f", "type": "quantitative", "title": "Frequency (Hz)"}, "y": {"field": "v", "type": "quantitative", "title": "PSD (dB/Hz)"}, "color": {"datum": "1.2 m | +𝑥"}}},
    {"data": {"name": "rules"}, "mark": {"type": "rule", "color": "#222222", "strokeWidth": 3, "strokeDash": [14, 6], "opacity": 0.8},
     "encoding": {"x": {"field": "f", "type": "quantitative", "title": "Frequency (Hz)"}, "y": {"datum": -161.2}, "y2": {"datum": -105}}},
    {"data": {"name": "bands"}, "mark": {"type": "text", "fontSize": 45, "fontWeight": "bold", "color": "#808080", "font": "Liberation Serif"},
     "encoding": {"x": {"field": "f", "type": "quantitative", "title": "Frequency (Hz)"}, "y": {"datum": -158}, "text": {"field": "t"}}}
  ]
},
{
  "width": 1355, "height": 927,
  "title": {"text": "(b)", "anchor": "start", "frame": "group", "fontSize": 60, "fontWeight": "bold", "font": "Liberation Serif", "color": "black", "dx": -12, "baseline": "alphabetic", "offset": -15},
  "layer": [
    {"data": {"name": "noise"}, "mark": {"type": "line", "strokeWidth": 2.5, "opacity": 0.5, "strokeJoin": "round"},
     "encoding": {
       "x": {"field": "f", "type": "quantitative", "title": "Frequency (Hz)", "scale": {"domain": [0, 2560], "nice": false, "zero": false},
             "axis": {"values": [0,256,512,768,1024,1280,1536,1792,2048,2304,2560], "format": "d", "labelPadding": 22, "titlePadding": 12, "grid": false}},
       "y": {"field": "v", "type": "quantitative", "title": null, "scale": {"domain": [-161.2, -105], "nice": false, "zero": false},
             "axis": {"labels": false, "values": [-160,-150,-140,-130,-120,-110], "grid": true, "gridDash": [10,5], "gridColor": "#e2e2e2", "gridWidth": 2.5}},
       "color": {"datum": "Bckg. Noise", "scale": {"domain": ["0.0 m | Leak", "0.4 m | +𝑦", "0.8 m | +𝑦", "1.2 m | +𝑦", "Bckg. Noise"], "range": ["#4155eb", "#3d9b3d", "#ebae3c", "#d73737", "#a6a6a6"]}, "legend": {"title": null}}}},
    {"data": {"name": "blue"}, "mark": {"type": "line", "strokeWidth": 5.5, "opacity": 0.95, "strokeJoin": "round"},
     "encoding": {"x": {"field": "f", "type": "quantitative", "title": "Frequency (Hz)"}, "y": {"field": "v", "type": "quantitative", "title": null}, "color": {"datum": "0.0 m | Leak"}}},
    {"data": {"name": "gb"}, "mark": {"type": "line", "strokeWidth": 5.5, "opacity": 0.95, "strokeJoin": "round"},
     "encoding": {"x": {"field": "f", "type": "quantitative", "title": "Frequency (Hz)"}, "y": {"field": "v", "type": "quantitative", "title": null}, "color": {"datum": "0.4 m | +𝑦"}}},
    {"data": {"name": "ob"}, "mark": {"type": "line", "strokeWidth": 5.5, "opacity": 0.95, "strokeJoin": "round"},
     "encoding": {"x": {"field": "f", "type": "quantitative", "title": "Frequency (Hz)"}, "y": {"field": "v", "type": "quantitative", "title": null}, "color": {"datum": "0.8 m | +𝑦"}}},
    {"data": {"name": "rb"}, "mark": {"type": "line", "strokeWidth": 5.5, "opacity": 0.95, "strokeJoin": "round"},
     "encoding": {"x": {"field": "f", "type": "quantitative", "title": "Frequency (Hz)"}, "y": {"field": "v", "type": "quantitative", "title": null}, "color": {"datum": "1.2 m | +𝑦"}}},
    {"data": {"name": "rules"}, "mark": {"type": "rule", "color": "#222222", "strokeWidth": 3, "strokeDash": [14, 6], "opacity": 0.8},
     "encoding": {"x": {"field": "f", "type": "quantitative", "title": "Frequency (Hz)"}, "y": {"datum": -161.2}, "y2": {"datum": -105}}},
    {"data": {"name": "bands"}, "mark": {"type": "text", "fontSize": 45, "fontWeight": "bold", "color": "#808080", "font": "Liberation Serif"},
     "encoding": {"x": {"field": "f", "type": "quantitative", "title": "Frequency (Hz)"}, "y": {"datum": -158}, "text": {"field": "t"}}}
  ]
}
],
"spacing": 35,
"resolve": {"scale": {"color": "independent"}, "legend": {"color": "independent"}}
}
